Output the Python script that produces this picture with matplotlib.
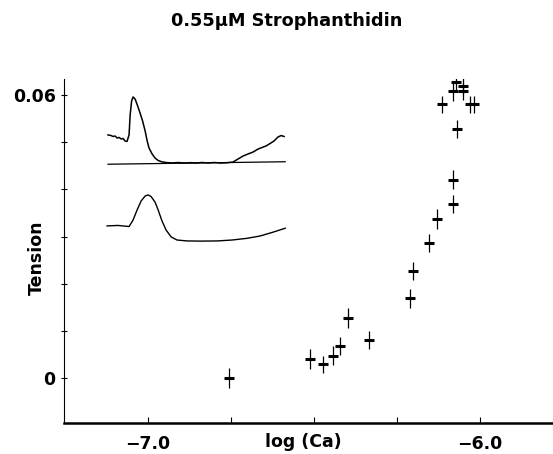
import numpy as np
import matplotlib
matplotlib.use('Agg')
import matplotlib.pyplot as plt

# main data: tension vs log(Ca)
log_ca = [-6.755, -6.512, -6.472, -6.444, -6.422, -6.397, -6.334,
          -6.211, -6.203, -6.153, -6.130, -6.080, -6.080, -6.070,
          -6.114, -6.082, -6.072, -6.050, -6.050, -6.030, -6.018]
tension = [0.0, 0.0041, 0.0029, 0.0048, 0.0068, 0.0128, 0.0080,
           0.0169, 0.0227, 0.0287, 0.0338, 0.0369, 0.0421, 0.0529,
           0.0580, 0.0608, 0.0628, 0.0619, 0.0608, 0.0580, 0.0580]
tension_err = [0.0021, 0.0021, 0.0019, 0.0021, 0.0019, 0.0021, 0.0019,
               0.0020, 0.0020, 0.0019, 0.0021, 0.0020, 0.0020, 0.0019,
               0.0019, 0.0021, 0.0021, 0.0017, 0.0018, 0.0019, 0.0019]

# inset traces (arbitrary units, 0-100)
upper_t = [1.6, 3.3, 4.4, 5.5, 6.6, 7.7, 8.7, 9.8, 10.9, 12.0, 13.1, 13.7,
           14.5, 15.3, 16.4, 17.8, 19.1, 20.5, 21.9, 23.0, 24.0, 25.7, 27.3,
           29.0, 30.9, 33.3, 36.6, 39.9, 43.2, 46.4, 49.7, 53.0, 56.3, 59.6,
           62.8, 66.1, 69.9, 72.7, 75.4, 78.1, 80.9, 83.6, 85.8, 88.0, 90.2,
           92.3, 94.5, 96.2, 97.8]
upper_y = [71.0, 70.6, 70.0, 70.3, 69.0, 69.4, 68.4, 68.7, 67.1, 66.8, 71.0,
           83.9, 92.9, 95.5, 94.2, 89.7, 85.2, 80.0, 73.5, 67.1, 62.6, 58.7,
           56.1, 54.5, 53.7, 53.2, 52.9, 53.2, 52.9, 53.1, 52.9, 53.2, 52.9,
           53.2, 52.9, 53.0, 53.5, 55.5, 57.4, 58.7, 60.0, 61.9, 62.9, 63.9,
           65.5, 67.1, 69.7, 70.6, 70.0]
base_t = [1.6, 98.4]
base_y = [52.1, 53.7]
lower_t = [1.1, 7.1, 13.1, 15.3, 17.5, 19.7, 21.9, 23.5, 25.1, 27.3, 29.0,
           31.1, 33.3, 36.1, 39.3, 44.8, 51.9, 61.2, 69.4, 77.6, 84.7, 91.3,
           98.4]
lower_y = [12.3, 12.6, 11.9, 16.1, 22.6, 28.4, 31.6, 32.3, 31.3, 27.7, 22.6,
           15.5, 9.7, 5.2, 3.2, 2.6, 2.5, 2.6, 3.2, 4.3, 5.8, 8.1, 10.8]

plt.rcParams['font.family'] = 'DejaVu Sans'
plt.rcParams['font.weight'] = 'bold'

fig = plt.figure(figsize=(5.53, 4.54), dpi=100)
ax = fig.add_axes([0.1157, 0.0683, 0.8843, 0.7577])

ax.errorbar(log_ca, tension, yerr=tension_err, fmt='_', color='black',
            ms=7, mew=2.2, elinewidth=0.9, capsize=0)

ax.set_xlim(-7.253, -5.78)
ax.set_ylim(-0.0095, 0.0634)
ax.set_xticks([-7.0, -6.75, -6.5, -6.25, -6.0])
ax.set_xticklabels(['\u22127.0', '', '', '', '\u22126.0'])
ax.set_yticks([0, 0.01, 0.02, 0.03, 0.04, 0.05, 0.06])
ax.set_yticklabels(['0', '', '', '', '', '', '0.06'])
ax.tick_params(direction='inout', length=4, width=0.8, labelsize=12.5, pad=4)
ax.tick_params(axis='x', direction='in', pad=9)
for s in ['top', 'right']:
    ax.spines[s].set_visible(False)
ax.spines['left'].set_linewidth(0.8)
ax.spines['bottom'].set_linewidth(1.8)

fig.text(0.519, 0.954, '0.55\u00b5M Strophanthidin', ha='center', va='center',
         fontsize=12.8, fontweight='bold')
fig.text(0.548, 0.026, 'log (Ca)', ha='center', va='center',
         fontsize=12.5, fontweight='bold')
fig.text(0.067, 0.432, 'Tension', ha='center', va='center', rotation=90,
         fontsize=12.5, fontweight='bold')

ins = fig.add_axes([0.190, 0.4604, 0.331, 0.3414])
ins.plot(upper_t, upper_y, color='black', lw=1.1)
ins.plot(base_t, base_y, color='black', lw=0.9)
ins.plot(lower_t, lower_y, color='black', lw=1.0)
ins.set_xlim(0, 100)
ins.set_ylim(0, 100)
ins.axis('off')

fig.savefig('out.png', dpi=100)
